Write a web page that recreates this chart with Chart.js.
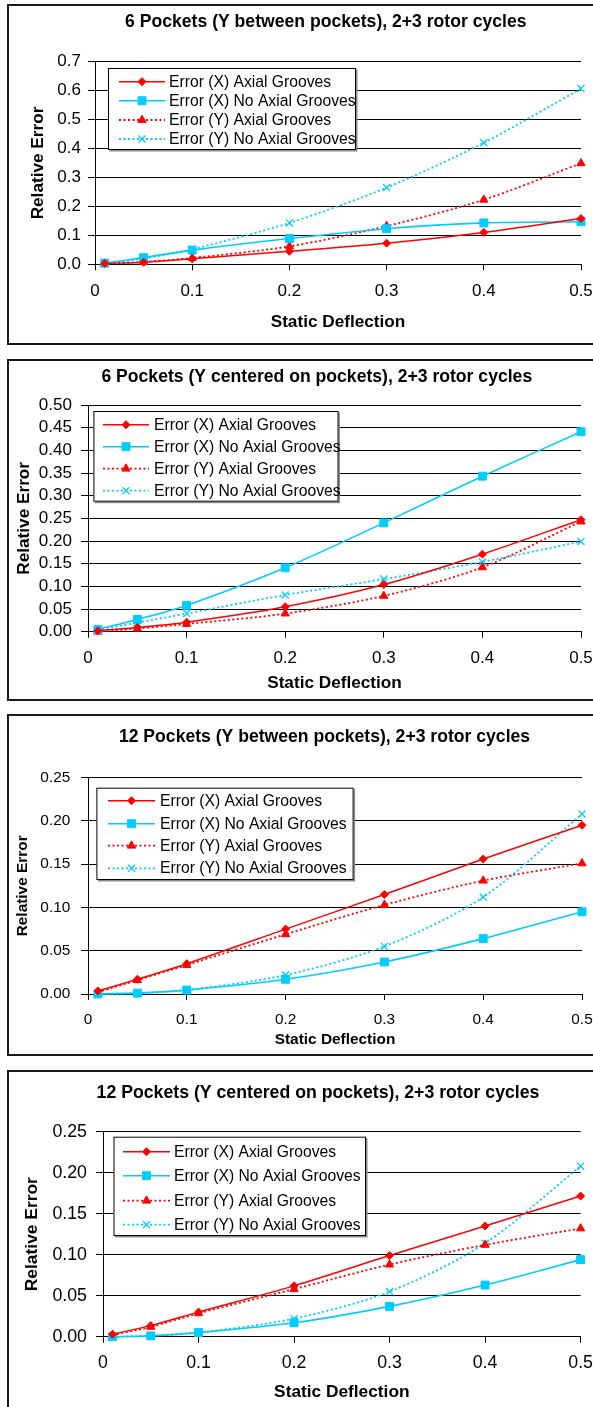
<!DOCTYPE html>
<html>
<head>
<title>Relative Error vs Static Deflection</title>
<script src="https://cdn.jsdelivr.net/npm/chart.js"></script>
<style>
    html, body { margin: 0; padding: 0; background: #fff; }
    body { width: 593px; height: 1407px; position: relative; overflow: hidden; }
    .panel { position: absolute; left: 0; width: 660px; }
    .frame { position: absolute; left: 7px; width: 700px; border: 2px solid #1a1a1a; box-sizing: border-box; pointer-events: none; }
</style>
</head>
<body>
<div class="panel" style="top:4px;height:340px"><canvas id="c1"></canvas></div>
<div class="panel" style="top:359px;height:341px"><canvas id="c2"></canvas></div>
<div class="panel" style="top:714px;height:341px"><canvas id="c3"></canvas></div>
<div class="panel" style="top:1070px;height:345px"><canvas id="c4"></canvas></div>
<div class="frame" style="top:4px;height:341px"></div>
<div class="frame" style="top:359px;height:342px"></div>
<div class="frame" style="top:714px;height:342px"></div>
<div class="frame" style="top:1070px;height:400px"></div>

<script>
    // static deflection (x values, shared by all four charts)
    const deflection = [0.01, 0.05, 0.1, 0.2, 0.3, 0.4, 0.5];

    const seriesLabels = [
        'Error (X) Axial Grooves',
        'Error (X) No Axial Grooves',
        'Error (Y) Axial Grooves',
        'Error (Y) No Axial Grooves'
    ];

    const chartTitles = [
        '6 Pockets (Y between pockets), 2+3 rotor cycles',
        '6 Pockets (Y centered on pockets), 2+3 rotor cycles',
        '12 Pockets (Y between pockets), 2+3 rotor cycles',
        '12 Pockets (Y centered on pockets), 2+3 rotor cycles'
    ];

    // 6 pockets, Y between pockets
    const sixBetweenXGrooves   = [0.003, 0.007, 0.019, 0.045, 0.073, 0.110, 0.158];
    const sixBetweenXNoGrooves = [0.004, 0.023, 0.049, 0.089, 0.123, 0.143, 0.147];
    const sixBetweenYGrooves   = [0.002, 0.008, 0.022, 0.062, 0.132, 0.223, 0.349];
    const sixBetweenYNoGrooves = [0.002, 0.020, 0.052, 0.143, 0.265, 0.420, 0.607];

    // 6 pockets, Y centered on pockets
    const sixCenteredXGrooves   = [0.002, 0.009, 0.021, 0.055, 0.104, 0.171, 0.247];
    const sixCenteredXNoGrooves = [0.005, 0.027, 0.058, 0.141, 0.240, 0.343, 0.441];
    const sixCenteredYGrooves   = [0.000, 0.007, 0.017, 0.040, 0.079, 0.142, 0.243];
    const sixCenteredYNoGrooves = [0.004, 0.020, 0.040, 0.081, 0.116, 0.154, 0.199];

    // 12 pockets, Y between pockets
    const twelveBetweenXGrooves   = [0.0035, 0.017, 0.035, 0.075, 0.115, 0.156, 0.195];
    const twelveBetweenXNoGrooves = [0.000, 0.001, 0.0045, 0.017, 0.037, 0.064, 0.095];
    const twelveBetweenYGrooves   = [0.002, 0.016, 0.0335, 0.069, 0.103, 0.131, 0.151];
    const twelveBetweenYNoGrooves = [0.0004, 0.001, 0.0046, 0.022, 0.055, 0.112, 0.208];

    // 12 pockets, Y centered on pockets
    const twelveCenteredXGrooves   = [0.003, 0.0135, 0.030, 0.062, 0.099, 0.135, 0.1715];
    const twelveCenteredXNoGrooves = [0.000, 0.001, 0.005, 0.017, 0.037, 0.063, 0.094];
    const twelveCenteredYGrooves   = [0.002, 0.012, 0.0285, 0.058, 0.088, 0.112, 0.132];
    const twelveCenteredYNoGrooves = [0.000, 0.001, 0.005, 0.022, 0.055, 0.114, 0.208];

    // y axis setup per chart
    const yMax = [0.7, 0.5, 0.25, 0.25];
    const yStep = [0.1, 0.05, 0.05, 0.05];
    const yDecimals = [1, 2, 2, 2];

    const FONT = '"Liberation Sans", Arial, Helvetica, sans-serif';
    Chart.defaults.font.family = FONT;
    Chart.defaults.color = '#000';

    const RED = '#FF0000';
    const CYAN = '#00CCFF';
    const seriesStyle = [
        { borderColor: RED, borderWidth: 1.5, pointStyle: 'rectRot', pointRadius: 4, pointBackgroundColor: RED, pointBorderColor: RED, pointBorderWidth: 1 },
        { borderColor: CYAN, borderWidth: 1.6, pointStyle: 'rect', pointRadius: 5.6, pointBackgroundColor: CYAN, pointBorderColor: CYAN, pointBorderWidth: 1 },
        { borderColor: RED, borderWidth: 1.8, borderDash: [2, 2.5], pointStyle: 'triangle', pointRadius: 4.8, pointBackgroundColor: RED, pointBorderColor: RED, pointBorderWidth: 1 },
        { borderColor: CYAN, borderWidth: 1.8, borderDash: [2, 2.5], pointStyle: 'crossRot', pointRadius: 5, pointBackgroundColor: CYAN, pointBorderColor: CYAN, pointBorderWidth: 1.3 }
    ];

    const W = 660;
    // canvas-space layout for each panel
    const layouts = [
        { h: 340, left: 95, right: 581, plotTop: 57.7, plotBottom: 260.3, tickFont: 17, yTickPad: 7, xTickPad: 11.2,
          xTitleFont: 17.2, xh: 68.3, yTitleFont: 17.2, yTitlePad: 27.6, titleFont: 17.6, titleX: 325.8, titleY: 17.7,
          box: [108, 64, 356, 146], rows: [77.7, 96.7, 116, 135], line: [119, 165], textX: 169 },
        { h: 341, left: 88, right: 581, plotTop: 46, plotBottom: 272.7, tickFont: 17, yTickPad: 9.1, xTickPad: 10.4,
          xTitleFont: 17.2, xh: 61.9, yTitleFont: 17.2, yTitlePad: 14.3, titleFont: 17.6, titleX: 316.8, titleY: 17.7,
          box: [93.4, 52, 338.5, 142.7], rows: [65.7, 87.7, 109.7, 131.7], line: [103, 149], textX: 154 },
        { h: 341, left: 88, right: 582, plotTop: 63.7, plotBottom: 280, tickFont: 15.4, yTickPad: 10.7, xTickPad: 10.1,
          xTitleFont: 15.4, xh: 55.2, yTitleFont: 15.4, yTitlePad: 13.5, titleFont: 17.6, titleX: 324.5, titleY: 23.3,
          box: [96.4, 73.7, 353.6, 166], rows: [86.7, 109.7, 131.7, 154.3], line: [108, 155], textX: 160 },
        { h: 345, left: 103, right: 580.6, plotTop: 61.7, plotBottom: 266.7, tickFont: 17.8, yTickPad: 9, xTickPad: 9.9,
          xTitleFont: 17.3, xh: 66.4, yTitleFont: 17.4, yTitlePad: 21.6, titleFont: 17.7, titleX: 318, titleY: 23.3,
          box: [113.5, 66.7, 366, 166], rows: [81.7, 105.7, 130.7, 154.7], line: [123, 170], textX: 174 }
    ];

    // draws the chart title and the boxed legend inside the plot
    function decor(L, title) {
        return {
            id: 'decor',
            afterDraw(chart) {
                const ctx = chart.ctx;
                ctx.save();
                ctx.fillStyle = '#000';
                ctx.font = `bold ${L.titleFont}px ${FONT}`;
                ctx.textAlign = 'center';
                ctx.textBaseline = 'middle';
                ctx.fillText(title, L.titleX, L.titleY);

                const [x1, y1, x2, y2] = L.box;
                ctx.fillStyle = '#8a8a8a';
                ctx.fillRect(x1 + 1.5, y1 + 1.5, x2 - x1, y2 - y1);
                ctx.fillStyle = '#fff';
                ctx.fillRect(x1, y1, x2 - x1, y2 - y1);
                ctx.strokeStyle = '#000';
                ctx.lineWidth = 1;
                ctx.strokeRect(x1 + 0.5, y1 + 0.5, x2 - x1 - 1, y2 - y1 - 1);

                chart.data.datasets.forEach((ds, i) => {
                    const y = L.rows[i];
                    ctx.strokeStyle = ds.borderColor;
                    ctx.lineWidth = ds.borderWidth;
                    ctx.setLineDash(ds.borderDash || []);
                    ctx.beginPath();
                    ctx.moveTo(L.line[0], y);
                    ctx.lineTo(L.line[1], y);
                    ctx.stroke();
                    ctx.setLineDash([]);
                    ctx.fillStyle = ds.pointBackgroundColor;
                    ctx.strokeStyle = ds.pointBorderColor;
                    ctx.lineWidth = ds.pointBorderWidth;
                    Chart.helpers.drawPoint(ctx, {
                        pointStyle: ds.pointStyle, radius: ds.pointRadius, rotation: 0, borderWidth: ds.pointBorderWidth
                    }, (L.line[0] + L.line[1]) / 2, y);
                    ctx.fillStyle = '#000';
                    ctx.font = `15.7px ${FONT}`;
                    ctx.textAlign = 'left';
                    ctx.textBaseline = 'middle';
                    ctx.fillText(ds.label, L.textX, y + 0.5);
                });
                ctx.restore();
            }
        };
    }

    function makeChart(canvasId, L, values, title, max, step, decimals) {
        const datasets = values.map((v, i) => Object.assign({
            label: seriesLabels[i],
            data: deflection.map((x, k) => ({ x: x, y: v[k] })),
            fill: false,
            tension: 0.3,
            clip: false
        }, seriesStyle[i]));

        return new Chart(document.getElementById(canvasId), {
            type: 'line',
            data: { datasets: datasets },
            options: {
                responsive: true,
                maintainAspectRatio: false,
                animation: false,
                events: [],
                layout: {
                    padding: { left: 0, top: L.plotTop, right: W - L.right, bottom: L.h - L.plotBottom - L.xh }
                },
                plugins: {
                    legend: { display: false },
                    title: { display: false },
                    tooltip: { enabled: false }
                },
                scales: {
                    x: {
                        type: 'linear',
                        min: 0,
                        max: 0.5,
                        ticks: {
                            stepSize: 0.1,
                            autoSkip: false,
                            maxRotation: 0,
                            padding: L.xTickPad,
                            font: { size: L.tickFont },
                            color: '#000',
                            callback: v => v === 0 ? '0' : v.toFixed(1)
                        },
                        grid: { drawOnChartArea: false, drawTicks: true, tickLength: 6, tickColor: '#000', color: '#000' },
                        border: { display: true, color: '#000', width: 1 },
                        title: {
                            display: true, text: 'Static Deflection', color: '#000', padding: 0,
                            font: { size: L.xTitleFont, weight: 'bold' }
                        },
                        afterFit: s => { s.height = L.xh; }
                    },
                    y: {
                        type: 'linear',
                        min: 0,
                        max: max,
                        ticks: {
                            stepSize: step,
                            autoSkip: false,
                            padding: L.yTickPad,
                            font: { size: L.tickFont },
                            color: '#000',
                            callback: v => v.toFixed(decimals)
                        },
                        grid: { color: '#000', lineWidth: 1, drawTicks: true, tickLength: 7, tickColor: '#000' },
                        border: { display: true, color: '#000', width: 1 },
                        title: {
                            display: true, text: 'Relative Error', color: '#000',
                            padding: { top: L.yTitlePad, bottom: 0 },
                            font: { size: L.yTitleFont, weight: 'bold' }
                        },
                        afterFit: s => { s.width = L.left; }
                    }
                }
            },
            plugins: [decor(L, title)]
        });
    }

    makeChart('c1', layouts[0], [sixBetweenXGrooves, sixBetweenXNoGrooves, sixBetweenYGrooves, sixBetweenYNoGrooves],
        chartTitles[0], yMax[0], yStep[0], yDecimals[0]);
    makeChart('c2', layouts[1], [sixCenteredXGrooves, sixCenteredXNoGrooves, sixCenteredYGrooves, sixCenteredYNoGrooves],
        chartTitles[1], yMax[1], yStep[1], yDecimals[1]);
    makeChart('c3', layouts[2], [twelveBetweenXGrooves, twelveBetweenXNoGrooves, twelveBetweenYGrooves, twelveBetweenYNoGrooves],
        chartTitles[2], yMax[2], yStep[2], yDecimals[2]);
    makeChart('c4', layouts[3], [twelveCenteredXGrooves, twelveCenteredXNoGrooves, twelveCenteredYGrooves, twelveCenteredYNoGrooves],
        chartTitles[3], yMax[3], yStep[3], yDecimals[3]);
</script>
</body>
</html>
